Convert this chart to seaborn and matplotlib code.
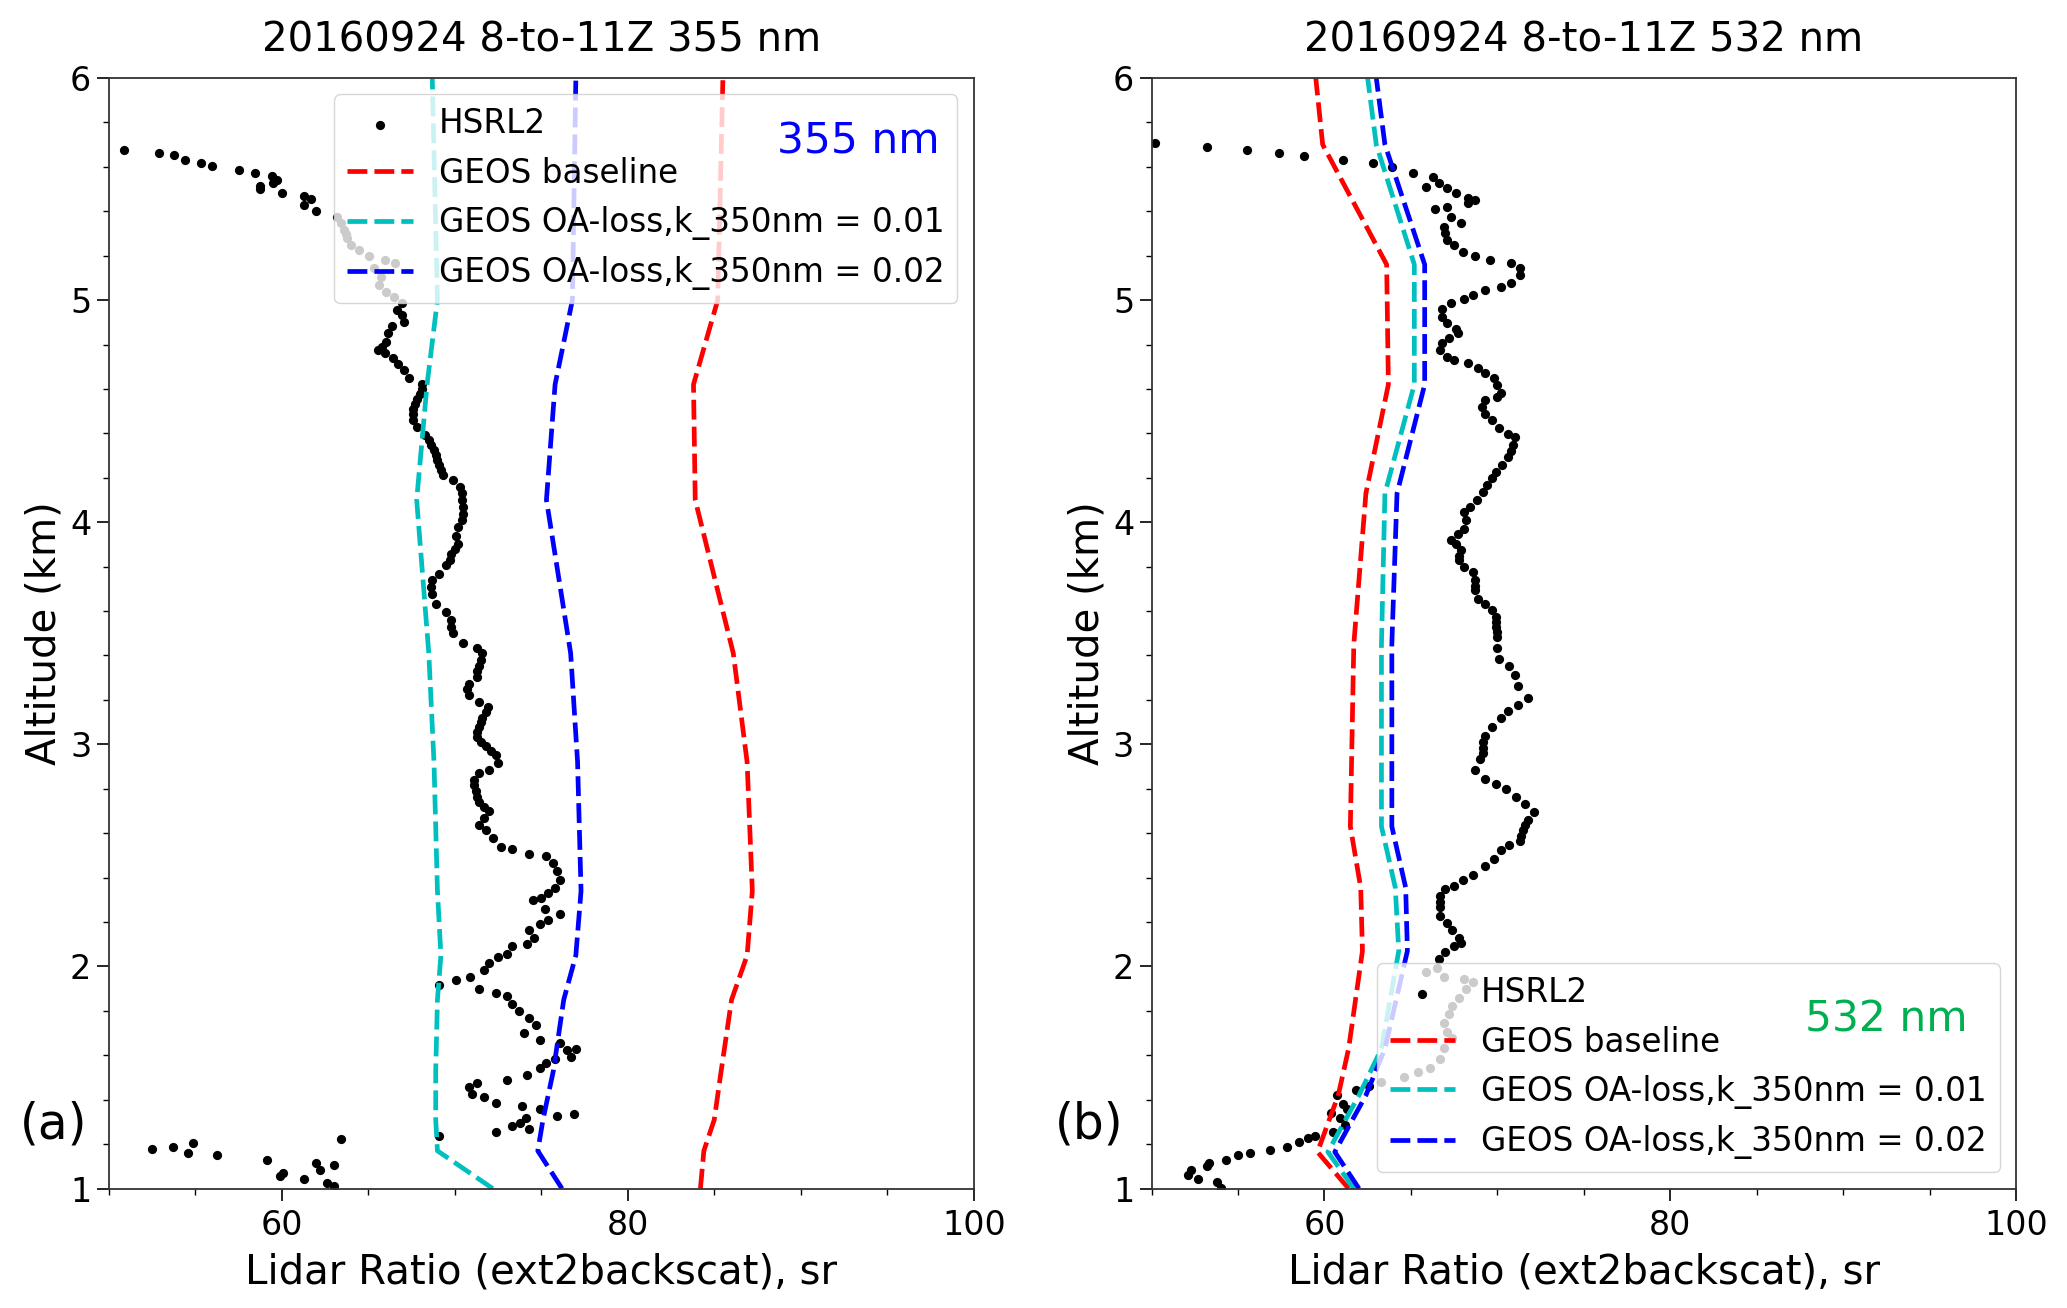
import matplotlib
matplotlib.use("Agg")
import matplotlib.pyplot as plt
from matplotlib.ticker import MultipleLocator, AutoMinorLocator
import seaborn as sns

# ---- HSRL2 lidar ratio profiles (sr) vs altitude (km) ----
hsrl355_lr = [
    50.9, 52.9, 53.8, 54.4, 55.35, 55.95, 57.55, 58.45, 59.45, 59.7, 59.5, 58.75, 58.75, 60.0,
    61.3, 61.7, 61.3, 62.0, 63.2, 63.4, 63.6, 63.7, 63.8, 64.0, 64.45, 65.05, 65.95, 66.55, 65.35,
    65.75, 65.65, 66.05, 66.5, 66.95, 66.65, 66.95, 67.05, 66.35, 66.15, 66.05, 65.8, 65.55,
    65.95, 66.45, 66.7, 67.05, 67.35, 68.1, 68.1, 68.0, 67.8, 67.7, 67.6, 67.6, 67.6, 67.8,
    68.3, 68.5, 68.6, 68.8, 68.9, 69.0, 69.1, 69.2, 69.3, 69.9, 70.3, 70.4, 70.4, 70.5, 70.5,
    70.4, 70.2, 70.1, 70.2, 70.0, 69.8, 69.7, 69.5, 69.1, 68.7, 68.6, 68.7, 68.9, 69.5, 69.8,
    69.8, 69.9,
    70.5, 71.3, 71.6, 71.5, 71.4, 71.3, 71.3, 70.8, 70.7, 70.8, 71.4, 71.9, 71.8, 71.6, 71.5,
    71.4, 71.3, 71.3, 71.5, 71.8, 72.1, 72.4, 72.5, 72.0, 71.4, 71.1, 71.1, 71.2, 71.3,
    71.4, 71.7, 72.0, 71.7, 71.4, 71.8, 72.2, 72.7, 73.3, 74.3, 75.3, 75.7, 75.9, 76.1, 75.8,
    75.4, 75.0, 74.5, 75.2, 76.1, 75.4, 74.9, 74.3, 74.6, 74.2, 73.3, 73.0, 72.5, 72.0, 71.7,
    70.9, 70.1, 69.1, 71.4, 72.4, 73.0, 73.3, 73.7, 74.3, 74.7, 74.0, 74.9, 76.1, 76.5, 77.0,
    76.7, 75.8, 75.3, 74.9, 74.2, 73.0, 71.3, 70.8, 71.0, 71.7, 72.4, 73.9, 74.9, 75.9, 76.9,
    74.1, 73.8, 73.3, 74.3, 72.4, 69.1, 63.4, 54.9, 53.7, 52.5, 54.6, 56.25, 59.15, 62.0, 62.2,
    63.0, 60.1, 59.9, 61.3, 62.6, 63.0,
]
hsrl355_alt = [
    5.676, 5.664, 5.652, 5.629, 5.617, 5.604, 5.584, 5.570, 5.558, 5.540, 5.525, 5.514, 5.498, 5.480,
    5.468, 5.453, 5.428, 5.402, 5.372, 5.345, 5.316, 5.297, 5.278, 5.250, 5.226, 5.198, 5.180, 5.165, 5.143,
    5.105, 5.068, 5.038, 5.012, 4.988, 4.955, 4.933, 4.903, 4.883, 4.850, 4.812, 4.790, 4.775,
    4.760, 4.738, 4.710, 4.685, 4.647, 4.624, 4.600, 4.579, 4.556, 4.534, 4.510, 4.489, 4.460, 4.429,
    4.392, 4.370, 4.347, 4.325, 4.302, 4.280, 4.257, 4.235, 4.212, 4.189, 4.159, 4.130, 4.099, 4.070, 4.039,
    4.010, 3.979, 3.940, 3.904, 3.880, 3.859, 3.830, 3.806, 3.769, 3.739, 3.710, 3.679, 3.634, 3.597, 3.559,
    3.530, 3.499,
    3.457, 3.433, 3.409, 3.380, 3.353, 3.330, 3.304, 3.272, 3.250, 3.224, 3.192, 3.168, 3.145, 3.119, 3.100,
    3.079, 3.055, 3.031, 3.010, 2.991, 2.970, 2.950, 2.918, 2.886, 2.870, 2.838, 2.815, 2.790, 2.765,
    2.741, 2.720, 2.701, 2.669, 2.637, 2.613, 2.580, 2.540, 2.529, 2.508, 2.497, 2.468, 2.428, 2.387, 2.355,
    2.331, 2.307, 2.299, 2.259, 2.234, 2.210, 2.191, 2.162, 2.130, 2.101, 2.090, 2.058, 2.041, 2.017, 1.985,
    1.953, 1.940, 1.918, 1.897, 1.881, 1.865, 1.832, 1.800, 1.768, 1.736, 1.699, 1.671, 1.655, 1.623, 1.628,
    1.591, 1.583, 1.567, 1.543, 1.511, 1.490, 1.474, 1.458, 1.425, 1.414, 1.387, 1.374, 1.358, 1.326, 1.338,
    1.318, 1.294, 1.281, 1.269, 1.253, 1.237, 1.221, 1.205, 1.189, 1.178, 1.161, 1.149, 1.129, 1.116, 1.084,
    1.104, 1.068, 1.055, 1.044, 1.023, 1.012,
]

hsrl532_lr = [
    50.2, 53.2, 55.5, 57.4, 58.8, 61.1, 62.8, 63.9, 65.1, 66.3,
    66.6, 65.9, 67.1, 67.6, 68.3, 68.7, 68.3, 67.1, 66.4, 67.3, 67.9, 66.9, 67.0, 67.1, 67.5,
    68.0, 68.7, 69.6, 70.8, 71.3, 71.3, 70.8, 70.2, 69.3, 68.6, 68.1, 67.3, 66.8, 66.8, 67.1,
    67.6, 67.7, 67.2, 66.8, 66.7, 67.1, 67.5, 68.3, 68.9, 69.3, 69.8, 70.0, 70.2, 70.0, 69.3,
    69.1, 69.3, 69.7, 70.1, 70.6, 71.0, 70.9, 70.8, 70.6, 70.3, 69.9, 69.7, 69.4, 69.2, 68.8,
    68.4, 68.1, 68.2, 68.1, 67.7, 67.3, 67.6, 67.9, 67.8, 67.8, 68.1, 68.6, 68.7, 68.7, 68.7,
    68.9, 69.3, 69.7, 69.9, 69.9, 69.9, 70.0, 70.0,
    70.0, 70.1, 70.7, 71.0, 71.2, 71.8, 71.2, 70.6, 70.2, 69.7, 69.3, 69.2, 69.2, 69.2, 69.0,
    68.7, 69.3, 69.9, 70.5, 71.1, 71.6, 72.1, 71.8, 71.6, 71.5, 71.4, 71.3, 70.7, 70.2, 69.8,
    69.3, 68.6, 68.0, 67.5, 67.0, 66.7, 66.7, 66.7, 66.7, 67.1, 67.4, 67.8, 67.9, 67.5, 67.0,
    66.6, 66.5, 65.9, 66.9, 68.1, 68.6, 68.2, 67.8, 67.4, 67.2, 66.9, 67.1, 67.4, 66.9, 66.7,
    66.1, 65.4, 64.6, 63.3, 62.6, 61.8, 60.7, 61.1, 61.3, 60.4, 60.9, 61.2, 60.5, 59.45, 59.05,
    58.55, 57.85, 56.85, 55.7, 55.0, 54.3, 53.3, 53.2, 52.3, 52.1, 52.7, 53.8, 54.0,
]
hsrl532_alt = [
    5.707, 5.690, 5.675, 5.662, 5.649, 5.630, 5.619, 5.597, 5.572, 5.553,
    5.526, 5.511, 5.503, 5.480, 5.458, 5.450, 5.435, 5.420, 5.408, 5.375, 5.348, 5.330, 5.300, 5.270, 5.248,
    5.218, 5.198, 5.180, 5.168, 5.143, 5.113, 5.075, 5.060, 5.045, 5.025, 5.007, 4.988, 4.962, 4.925, 4.895,
    4.872, 4.850, 4.828, 4.805, 4.775, 4.745, 4.730, 4.715, 4.692, 4.670, 4.647, 4.617, 4.580, 4.565, 4.550,
    4.520, 4.489, 4.459, 4.422, 4.399, 4.384, 4.347, 4.320, 4.294, 4.257, 4.227, 4.197, 4.167, 4.137, 4.099,
    4.069, 4.047, 4.009, 3.971, 3.949, 3.922, 3.904, 3.874, 3.850, 3.829, 3.799, 3.776, 3.739, 3.715, 3.694,
    3.656, 3.634, 3.604, 3.574, 3.550, 3.529, 3.505, 3.484,
    3.433, 3.385, 3.353, 3.312, 3.264, 3.208, 3.176, 3.152, 3.119, 3.079, 3.039, 3.010, 2.983, 2.960, 2.934,
    2.886, 2.846, 2.822, 2.798, 2.765, 2.733, 2.696, 2.661, 2.637, 2.613, 2.588, 2.564, 2.548, 2.524, 2.484,
    2.452, 2.411, 2.387, 2.363, 2.347, 2.315, 2.290, 2.267, 2.226, 2.194, 2.162, 2.130, 2.106, 2.090, 2.066,
    2.033, 1.993, 1.977, 1.953, 1.945, 1.929, 1.897, 1.856, 1.824, 1.784, 1.744, 1.704, 1.679, 1.631, 1.583,
    1.543, 1.527, 1.502, 1.478, 1.462, 1.446, 1.422, 1.382, 1.358, 1.342, 1.318, 1.285, 1.253, 1.237, 1.229,
    1.210, 1.189, 1.173, 1.161, 1.149, 1.129, 1.116, 1.100, 1.084, 1.060, 1.044, 1.028, 1.004,
]

# ---- GEOS model profiles ----
geos355_alt = [1.0, 1.17, 1.31, 1.53, 1.85, 2.05, 2.34, 2.92, 3.41, 4.10, 4.62, 5.0, 6.0]
geos355_base = [84.2, 84.4, 85.0, 85.4, 86.0, 86.9, 87.2, 86.9, 86.1, 83.9, 83.8, 85.2, 85.5]
geos355_k01 = [72.2, 69.0, 68.9, 68.9, 69.0, 69.2, 69.0, 68.8, 68.5, 67.8, 68.4, 69.0, 68.7]
geos355_k02 = [76.2, 74.8, 75.1, 75.7, 76.3, 77.0, 77.3, 77.1, 76.7, 75.3, 75.8, 76.8, 77.0]

geos532_alt = [1.0, 1.165, 1.42, 1.63, 2.07, 2.355, 2.63, 3.45, 4.13, 4.62, 5.16, 5.70, 6.0]
geos532_base = [61.4, 59.6, 60.8, 61.4, 62.2, 62.1, 61.5, 61.7, 62.4, 63.7, 63.6, 59.9, 59.5]
geos532_k01 = [61.7, 60.2, 62.0, 63.3, 64.3, 64.1, 63.3, 63.3, 63.5, 65.2, 65.2, 63.0, 62.5]
geos532_k02 = [62.0, 60.6, 62.4, 63.5, 64.8, 64.7, 63.9, 63.9, 64.2, 65.8, 65.8, 63.5, 63.0]

labels = ["HSRL2", "GEOS baseline",
          "GEOS OA-loss,k_350nm = 0.01", "GEOS OA-loss,k_350nm = 0.02"]

sns.set_style("ticks")
plt.rcParams["font.family"] = ["DejaVu Sans"]
plt.rcParams["text.color"] = "k"
plt.rcParams["axes.labelcolor"] = "k"
plt.rcParams["xtick.color"] = "k"
plt.rcParams["ytick.color"] = "k"

fig = plt.figure(figsize=(20.67, 13.08), dpi=100)
ax1 = fig.add_axes([0.0526, 0.0913, 0.4185, 0.8491])
ax2 = fig.add_axes([0.5571, 0.0913, 0.4182, 0.8491])

DASH = (0, (4.2, 1.5))


def draw_panel(ax, lr, alt, galt, base, k01, k02, title, tag, wl, wl_color,
               legend_loc, wl_pos, tag_x):
    sns.scatterplot(x=lr, y=alt, ax=ax, color="k", s=44, linewidth=0, label=labels[0])
    for vals, col, lab in [(base, "r", labels[1]), (k01, "c", labels[2]), (k02, "b", labels[3])]:
        sns.lineplot(x=vals, y=galt, ax=ax, sort=False, estimator=None, color=col,
                     lw=3.4, linestyle=DASH, label=lab)
    ax.set_xlim(50, 100)
    ax.set_ylim(1, 6)
    ax.xaxis.set_major_locator(MultipleLocator(20))
    ax.xaxis.set_minor_locator(AutoMinorLocator(4))
    ax.yaxis.set_major_locator(MultipleLocator(1))
    ax.yaxis.set_minor_locator(AutoMinorLocator(5))
    ax.tick_params(which="major", length=8.5, width=1.2, labelsize=24)
    ax.tick_params(which="minor", length=4.5, width=1.0)
    ax.tick_params(axis="x", which="major", pad=6.4)
    ax.tick_params(axis="y", which="major", pad=4)
    for sp in ax.spines.values():
        sp.set_color("0.2")
        sp.set_linewidth(1.3)
    ax.set_xlabel("Lidar Ratio (ext2backscat), sr", fontsize=29, labelpad=7.5)
    ax.set_ylabel("Altitude (km)", fontsize=29, labelpad=4)
    ax.set_title(title, fontsize=29, pad=19)
    leg = ax.legend(loc=legend_loc, fontsize=23.5, frameon=True, framealpha=0.8,
                    fancybox=True, edgecolor="0.8", labelspacing=0.5)
    leg.set_zorder(5)
    ax.text(wl_pos[0], wl_pos[1], wl, color=wl_color, fontsize=30.5, ha="right",
            va="baseline", transform=ax.transAxes, zorder=6)
    ax.text(tag_x, 0.045, tag, fontsize=35, ha="left", va="baseline",
            transform=ax.transAxes)


draw_panel(ax1, hsrl355_lr, hsrl355_alt, geos355_alt, geos355_base, geos355_k01, geos355_k02,
           "20160924 8-to-11Z 355 nm", "(a)", "355 nm", "#0000ff", "upper right",
           (0.96, 0.9316), -0.1025)
draw_panel(ax2, hsrl532_lr, hsrl532_alt, geos532_alt, geos532_base, geos532_k01, geos532_k02,
           "20160924 8-to-11Z 532 nm", "(b)", "532 nm", "#00b050", "lower right",
           (0.944, 0.141), -0.112)

fig.savefig("out.png", dpi=100)
